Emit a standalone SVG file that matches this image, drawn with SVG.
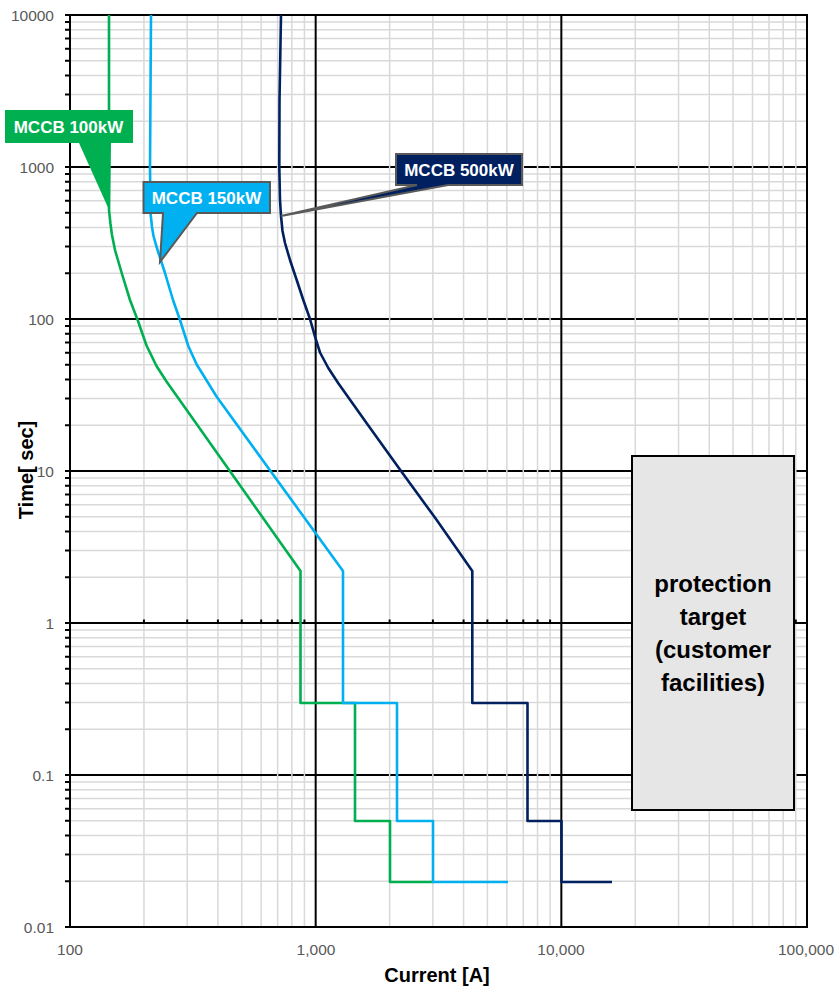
<svg xmlns="http://www.w3.org/2000/svg" width="840" height="995" viewBox="0 0 840 995">
<style>
text{font-family:"Liberation Sans",Arial,sans-serif}
.tick{font-size:15.5px;fill:#595959}
.minor{stroke:#d9d9d9;stroke-width:1.5;fill:none}
.major{stroke:#000;stroke-width:2;fill:none}
.curve{fill:none;stroke-width:2.6;stroke-linejoin:round;stroke-linecap:butt}
.lbl{font-size:17px;font-weight:bold;fill:#fff;text-anchor:middle}
.ptxt{font-size:24px;font-weight:bold;fill:#000;text-anchor:middle}
.axt{font-size:20px;font-weight:bold;fill:#000;text-anchor:middle}
</style>
<rect width="840" height="995" fill="#fff"/>
<g id="grid">
<path class="minor" d="M143.95 15V927M187.21 15V927M217.91 15V927M241.71 15V927M261.17 15V927M277.62 15V927M291.87 15V927M304.43 15V927M389.62 15V927M432.88 15V927M463.58 15V927M487.38 15V927M506.84 15V927M523.29 15V927M537.54 15V927M550.1 15V927M635.29 15V927M678.55 15V927M709.25 15V927M733.05 15V927M752.51 15V927M768.96 15V927M783.21 15V927M795.77 15V927"/>
<path class="minor" d="M70 881.24H807M70 854.48H807M70 835.49H807M70 820.76H807M70 808.72H807M70 798.54H807M70 789.73H807M70 781.96H807M70 729.24H807M70 702.48H807M70 683.49H807M70 668.76H807M70 656.72H807M70 646.54H807M70 637.73H807M70 629.96H807M70 577.24H807M70 550.48H807M70 531.49H807M70 516.76H807M70 504.72H807M70 494.54H807M70 485.73H807M70 477.96H807M70 425.24H807M70 398.48H807M70 379.49H807M70 364.76H807M70 352.72H807M70 342.54H807M70 333.73H807M70 325.96H807M70 273.24H807M70 246.48H807M70 227.49H807M70 212.76H807M70 200.72H807M70 190.54H807M70 181.73H807M70 173.96H807M70 121.24H807M70 94.48H807M70 75.49H807M70 60.76H807M70 48.72H807M70 38.54H807M70 29.73H807M70 21.96H807"/>
<path class="major" d="M70 167H807M70 319H807M70 471H807M70 775H807"/>
<path class="minor" d="M277.62 164V170M291.87 164V170M304.43 164V170M389.62 164V170M432.88 164V170M463.58 164V170M487.38 164V170M506.84 164V170M523.29 164V170M537.54 164V170M550.1 164V170M635.29 164V170M678.55 164V170M709.25 164V170M733.05 164V170M752.51 164V170M768.96 164V170M783.21 164V170M795.77 164V170M277.62 316V322M291.87 316V322M304.43 316V322M389.62 316V322M432.88 316V322M463.58 316V322M487.38 316V322M506.84 316V322M523.29 316V322M537.54 316V322M550.1 316V322M635.29 316V322M678.55 316V322M709.25 316V322M733.05 316V322M752.51 316V322M768.96 316V322M783.21 316V322M795.77 316V322M277.62 468V474M291.87 468V474M304.43 468V474M389.62 468V474M432.88 468V474M463.58 468V474M487.38 468V474M506.84 468V474M523.29 468V474M537.54 468V474M550.1 468V474M635.29 468V474M678.55 468V474M709.25 468V474M733.05 468V474M752.51 468V474M768.96 468V474M783.21 468V474M795.77 468V474M277.62 772V778M291.87 772V778M304.43 772V778M389.62 772V778M432.88 772V778M463.58 772V778M487.38 772V778M506.84 772V778M523.29 772V778M537.54 772V778M550.1 772V778M635.29 772V778M678.55 772V778M709.25 772V778M733.05 772V778M752.51 772V778M768.96 772V778M783.21 772V778M795.77 772V778"/>
<path class="major" d="M315.67 15V927M561.34 15V927M70 623H807"/>
<path class="major" d="M143.95 623V619.5M187.21 623V619.5M217.91 623V619.5M241.71 623V619.5M261.17 623V619.5M277.62 623V619.5M291.87 623V619.5M304.43 623V619.5M389.62 623V619.5M432.88 623V619.5M463.58 623V619.5M487.38 623V619.5M506.84 623V619.5M523.29 623V619.5M537.54 623V619.5M550.1 623V619.5M635.29 623V619.5M678.55 623V619.5M709.25 623V619.5M733.05 623V619.5M752.51 623V619.5M768.96 623V619.5M783.21 623V619.5M795.77 623V619.5"/>
<path class="major" d="M65 15H70M65 167H70M65 319H70M65 471H70M65 623H70M65 775H70M65 927H70M65 881.24H70M65 854.48H70M65 835.49H70M65 820.76H70M65 808.72H70M65 798.54H70M65 789.73H70M65 781.96H70M65 729.24H70M65 702.48H70M65 683.49H70M65 668.76H70M65 656.72H70M65 646.54H70M65 637.73H70M65 629.96H70M65 577.24H70M65 550.48H70M65 531.49H70M65 516.76H70M65 504.72H70M65 494.54H70M65 485.73H70M65 477.96H70M65 425.24H70M65 398.48H70M65 379.49H70M65 364.76H70M65 352.72H70M65 342.54H70M65 333.73H70M65 325.96H70M65 273.24H70M65 246.48H70M65 227.49H70M65 212.76H70M65 200.72H70M65 190.54H70M65 181.73H70M65 173.96H70M65 121.24H70M65 94.48H70M65 75.49H70M65 60.76H70M65 48.72H70M65 38.54H70M65 29.73H70M65 21.96H70"/>
<path class="major" d="M70 15H807V927H70Z"/>
</g>
<g id="tick-labels" class="tick">
<g text-anchor="end">
<text x="54" y="20.5">10000</text>
<text x="54" y="172.5">1000</text>
<text x="54" y="324.5">100</text>
<text x="54" y="476.5">10</text>
<text x="54" y="628.5">1</text>
<text x="54" y="780.5">0.1</text>
<text x="54" y="932.5">0.01</text>
</g>
<g text-anchor="middle">
<text x="70" y="955">100</text>
<text x="316" y="955">1,000</text>
<text x="561" y="955">10,000</text>
<text x="806" y="955">100,000</text>
</g>
</g>
<g id="axis-titles">
<text class="axt" transform="translate(33,470) rotate(-90)">Time[ sec]</text>
<text class="axt" x="437" y="982">Current [A]</text>
</g>
<g id="connectors">
<polyline id="curve-100kW" class="curve" stroke="#00b050" points="109,15 109,210 110.5,224 112,235 115,250 118.5,262 122,274 130,300 138,321 146.5,345.5 156.5,366 166.5,381.5 186.7,410 300.5,571 300.5,703 355,703 355,821 390,821 390,882 433,882"/>
<polyline id="curve-150kW" class="curve" stroke="#00b0f0" points="151,15 150,167 150.5,213 152,227 153.5,236 156,245 158.5,253 165,273 173,300 180,320 188.3,346 196.7,364.5 216.7,396.7 343,571 343,703 397,703 397,821 433,821 433,882 508,882"/>
<polyline id="curve-500kW" class="curve" stroke="#002060" points="281,15 279.5,100 279.3,167 280,200 281,216 282.5,231 285,243 290,260 296.7,280 303.3,300 310,319 315,336.7 320,352.5 328.3,368 338.3,383.3 366.7,423.3 401,471 436.7,520 472.3,571 472.3,703 527.5,703 527.5,821 561.5,821 561.5,882 612,882"/>
</g>
<g id="protection-target">
<rect x="632" y="456" width="162" height="354" fill="#e7e6e6" stroke="#000" stroke-width="2"/>
<text class="ptxt" x="713" y="592">protection</text>
<text class="ptxt" x="713" y="625">target</text>
<text class="ptxt" x="713" y="658">(customer</text>
<text class="ptxt" x="713" y="691">facilities)</text>
</g>
<g id="label-100kW">
<path d="M5 110H133V143H111L110 212L79 143H5Z" fill="#00b050"/>
<text class="lbl" x="68.5" y="132.5">MCCB 100kW</text>
</g>
<g id="label-150kW">
<path d="M143.5 182H270V213H197L160 262L163 213H143.5Z" fill="#00b0f0" stroke="#595959" stroke-width="2" stroke-linejoin="miter"/>
<text class="lbl" x="206.5" y="204">MCCB 150kW</text>
</g>
<g id="label-500kW">
<path d="M396 154H522V185H448L281 216L417 185H396Z" fill="#002060" stroke="#595959" stroke-width="2" stroke-linejoin="miter"/>
<text class="lbl" x="459" y="176">MCCB 500kW</text>
</g>
</svg>
